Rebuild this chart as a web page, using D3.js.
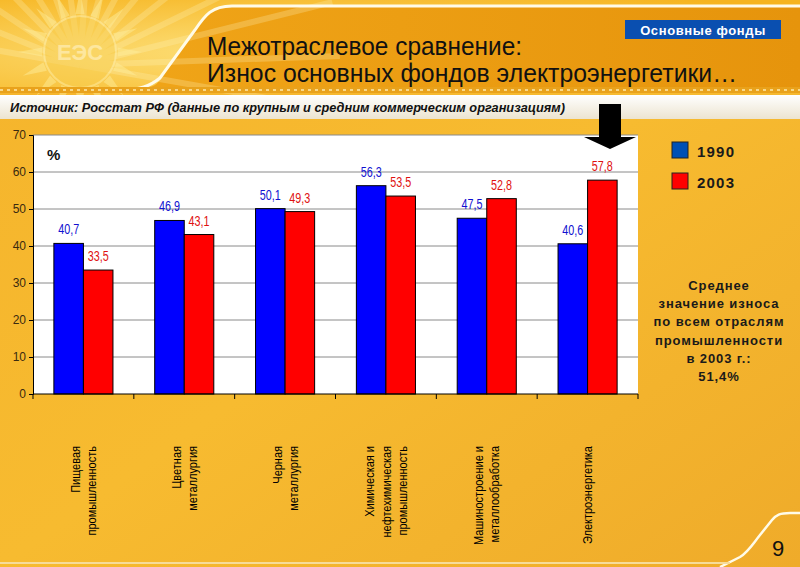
<!DOCTYPE html>
<html><head><meta charset="utf-8">
<script src="https://cdn.jsdelivr.net/npm/d3@7"></script>
<style>
html,body{margin:0;padding:0;background:#f2b02c;}
svg{display:block;}
</style></head>
<body>
<svg id="chart" width="800" height="567"></svg>
<script>
// ---- data ----
const categories = [
  ["Пищевая", "промышленность"],
  ["Цветная", "металлургия"],
  ["Черная", "металлургия"],
  ["Химическая и", "нефтехимическая", "промышленность"],
  ["Машиностроение и", "металлообработка"],
  ["Электроэнергетика"]
];
const series = ["1990", "2003"];
const values1990 = [40.7, 46.9, 50.1, 56.3, 47.5, 40.6];
const values2003 = [33.5, 43.1, 49.3, 53.5, 52.8, 57.8];
const yTicks = [0, 10, 20, 30, 40, 50, 60, 70];
const colors = ["#0000ff", "#ff0000"];
const legendColors = ["#0050b4", "#ff0000"];
const labelColors = ["#1010d0", "#e01010"];
const noteLines = ["Среднее", "значение износа", "по всем отраслям", "промышленности", "в 2003 г.:", "51,4%"];

const svg = d3.select("#chart");
const W = 800, H = 567;
const defs = svg.append("defs");
const sans = "'Liberation Sans', Arial, sans-serif";

// background
const bg = defs.append("linearGradient").attr("id","bg").attr("x1",0).attr("y1",0).attr("x2",1).attr("y2",1);
bg.append("stop").attr("offset","0").attr("stop-color","#f5b42c");
bg.append("stop").attr("offset","0.5").attr("stop-color","#f7bb30");
bg.append("stop").attr("offset","1").attr("stop-color","#efab2a");
svg.append("rect").attr("width",W).attr("height",H).attr("fill","url(#bg)");

// header
const hd = defs.append("linearGradient").attr("id","hd").attr("x1",0).attr("y1",0).attr("x2",1).attr("y2",0);
hd.append("stop").attr("offset","0").attr("stop-color","#f2a81a");
hd.append("stop").attr("offset","1").attr("stop-color","#e6940c");
svg.append("rect").attr("x",0).attr("y",0).attr("width",W).attr("height",90).attr("fill","url(#hd)");
const lz = defs.append("radialGradient").attr("id","lz").attr("cx",0.35).attr("cy",0.6).attr("r",0.8);
lz.append("stop").attr("offset","0").attr("stop-color","#fde07a");
lz.append("stop").attr("offset","1").attr("stop-color","#f6b41f");
svg.append("path").attr("d","M0,0 L800,0 L800,6 L232,6 C212,6 205,15 195,30 L160,80 C156,86 150,88 140,88 L0,88 Z").attr("fill","url(#lz)");
const rays = svg.append("g").attr("opacity",0.25);
for (let a = -170; a <= 10; a += 12) {
  const r = a * Math.PI/180;
  rays.append("line").attr("x1",80).attr("y1",65).attr("x2",80+Math.cos(r)*260).attr("y2",65+Math.sin(r)*260)
    .attr("stroke","#fff6c0").attr("stroke-width",6);
}
const logo = svg.append("g").attr("opacity",0.45);
for (let i = 0; i < 16; i++) {
  const a = i * Math.PI * 2 / 16;
  logo.append("path")
    .attr("d", `M${80+Math.cos(a-0.12)*38},${52+Math.sin(a-0.12)*38} L${80+Math.cos(a)*62},${52+Math.sin(a)*62} L${80+Math.cos(a+0.12)*38},${52+Math.sin(a+0.12)*38} Z`)
    .attr("fill","#fff0a0");
}
logo.append("circle").attr("cx",80).attr("cy",52).attr("r",36).attr("fill","#f8cf50").attr("stroke","#fff2b0").attr("stroke-width",2);
logo.append("text").attr("x",80).attr("y",60).attr("text-anchor","middle").attr("font-family",sans).attr("font-weight","bold").attr("font-size",22).attr("fill","#fff6d0").text("ЕЭС");
svg.append("path").attr("d","M120,90 C140,90 150,86 160,78 L195,30 C205,15 212,6 232,6 L800,6")
  .attr("fill","none").attr("stroke","#fffbe8").attr("stroke-width",3);
svg.append("rect").attr("x",0).attr("y",87).attr("width",W).attr("height",6).attr("fill","#e9a21c");
svg.append("line").attr("x1",0).attr("x2",W).attr("y1",90).attr("y2",90)
  .attr("stroke","#f8d88a").attr("stroke-width",2).attr("stroke-dasharray","3,4");
const st = defs.append("linearGradient").attr("id","st").attr("x1",0).attr("y1",0).attr("x2",0).attr("y2",1);
st.append("stop").attr("offset","0").attr("stop-color","#ffffff");
st.append("stop").attr("offset","1").attr("stop-color","#ece4d0");
svg.append("rect").attr("x",0).attr("y",95).attr("width",W).attr("height",24).attr("fill","url(#st)");

// titles (condensed via textLength)
svg.append("text").attr("x",207).attr("y",55).attr("font-family",sans).attr("font-size",25)
  .attr("textLength",315).attr("lengthAdjust","spacingAndGlyphs")
  .attr("fill","#111").text("Межотраслевое сравнение:");
svg.append("text").attr("x",207).attr("y",82).attr("font-family",sans).attr("font-size",25)
  .attr("textLength",530).attr("lengthAdjust","spacingAndGlyphs")
  .attr("fill","#111").text("Износ основных фондов электроэнергетики…");
svg.append("text").attr("x",10).attr("y",112).attr("font-family",sans).attr("font-size",13)
  .attr("font-style","italic").attr("font-weight","bold").attr("fill","#111")
  .attr("textLength",555).attr("lengthAdjust","spacingAndGlyphs")
  .text("Источник: Росстат РФ (данные по крупным и средним коммерческим организациям)");

// badge
svg.append("rect").attr("x",625).attr("y",20).attr("width",156).attr("height",19).attr("fill","#0a4fb0");
svg.append("text").attr("x",703).attr("y",34.5).attr("text-anchor","middle").attr("font-family",sans)
  .attr("font-weight","bold").attr("font-size",13).attr("letter-spacing",0.6).attr("fill","#fff").text("Основные фонды");

// ---- chart ----
const plot = {left:33, right:638, top:135, bottom:394};
const y = d3.scaleLinear().domain([0,70]).range([plot.bottom, plot.top]);
const catKeys = categories.map((c,i)=>i);
const x = d3.scaleBand().domain(catKeys).range([plot.left, plot.right]);
const bw = x.bandwidth();
const xs = d3.scaleBand().domain(series).range([bw/2 - bw*0.293, bw/2 + bw*0.293]);

svg.append("rect").attr("x",plot.left).attr("y",plot.top).attr("width",plot.right-plot.left)
  .attr("height",plot.bottom-plot.top).attr("fill","#fff");

svg.append("g").selectAll("line").data(yTicks.filter(d=>d>0)).join("line")
  .attr("x1",plot.left).attr("x2",plot.right).attr("y1",d=>y(d)).attr("y2",d=>y(d))
  .attr("stroke","#8a8a8a").attr("stroke-width",1);

const data = categories.map((c,i)=>({i, vals:[values1990[i], values2003[i]]}));
const groups = svg.append("g").selectAll("g").data(data).join("g")
  .attr("transform",d=>`translate(${x(d.i)},0)`);
groups.selectAll("rect").data(d=>d.vals.map((v,k)=>({v,k}))).join("rect")
  .attr("x",d=>xs(series[d.k])).attr("width",xs.bandwidth())
  .attr("y",d=>y(d.v)).attr("height",d=>y(0)-y(d.v))
  .attr("fill",d=>colors[d.k]).attr("stroke","#000").attr("stroke-width",1);
groups.selectAll("text").data(d=>d.vals.map((v,k)=>({v,k}))).join("text")
  .attr("x",d=>xs(series[d.k])+xs.bandwidth()/2).attr("y",d=>y(d.v)-9)
  .attr("text-anchor","middle").attr("font-family",sans).attr("font-size",14)
  .attr("textLength",21).attr("lengthAdjust","spacingAndGlyphs")
  .attr("fill",d=>labelColors[d.k]).text(d=>d3.format(".1f")(d.v).replace(".",","));

const yAxis = d3.axisLeft(y).tickValues(yTicks).tickSize(4).tickPadding(3);
const ya = svg.append("g").attr("transform",`translate(${plot.left},0)`).call(yAxis);
ya.select(".domain").attr("stroke","#000");
ya.selectAll(".tick line").attr("stroke","#000");
ya.selectAll("text").attr("font-family",sans).attr("font-size",12).attr("fill","#3a2a10");

svg.append("line").attr("x1",plot.left).attr("x2",plot.right).attr("y1",plot.bottom).attr("y2",plot.bottom).attr("stroke","#000");
const bounds = catKeys.map(k=>x(k)).concat([x(catKeys[catKeys.length-1])+bw]);
svg.append("g").selectAll("line").data(bounds).join("line")
  .attr("x1",d=>d).attr("x2",d=>d).attr("y1",plot.bottom).attr("y2",plot.bottom+5).attr("stroke","#000");

const cl = svg.append("g").selectAll("g").data(data).join("g")
  .attr("transform",d=>`translate(${x(d.i)+bw/2},446) rotate(-90)`);
cl.each(function(d){
  const lines = categories[d.i];
  const n = lines.length, lh = 14;
  d3.select(this).selectAll("text").data(lines).join("text")
    .attr("x",0).attr("y",(l,j)=>(j-(n-1)/2)*lh + 4)
    .attr("text-anchor","end").attr("font-family",sans).attr("font-size",11)
    .attr("transform","scale(1,1.15)")
    .attr("fill","#000").text(l=>l);
});

svg.append("text").attr("x",47).attr("y",160).attr("font-family",sans)
  .attr("font-weight","bold").attr("font-size",15).attr("fill","#111").text("%");

svg.append("path").attr("d","M599,104 L621,104 L621,137 L636,137 L610,149 L584,137 L599,137 Z").attr("fill","#000");

const lg = svg.append("g").selectAll("g").data(series).join("g")
  .attr("transform",(d,i)=>`translate(672,${142+i*31})`);
lg.append("rect").attr("width",16).attr("height",16).attr("fill",(d,i)=>legendColors[i]).attr("stroke","#222");
lg.append("text").attr("x",25).attr("y",14.5).attr("font-family",sans)
  .attr("font-weight","bold").attr("font-size",15).attr("letter-spacing",1.2).attr("fill","#1a1a1a").text(d=>d);

svg.append("g").selectAll("text").data(noteLines).join("text")
  .attr("x",719).attr("y",(d,i)=>290+i*18.2).attr("text-anchor","middle")
  .attr("font-family",sans).attr("font-weight","bold").attr("font-size",13)
  .attr("letter-spacing",0.9).attr("fill","#1a1a1a").text(d=>d);

svg.append("path").attr("d","M720,567 L740,557 C748,552 752,545 760,535 L772,520 C776,515 780,513 790,513 L800,513")
  .attr("fill","none").attr("stroke","#fffbe8").attr("stroke-width",2.5);
svg.append("line").attr("x1",0).attr("x2",730).attr("y1",563).attr("y2",563).attr("stroke","#f6dc9a").attr("stroke-width",2);
svg.append("text").attr("x",778).attr("y",556).attr("text-anchor","middle").attr("font-family",sans)
  .attr("font-size",22).attr("fill","#111").text("9");
</script>
</body></html>
